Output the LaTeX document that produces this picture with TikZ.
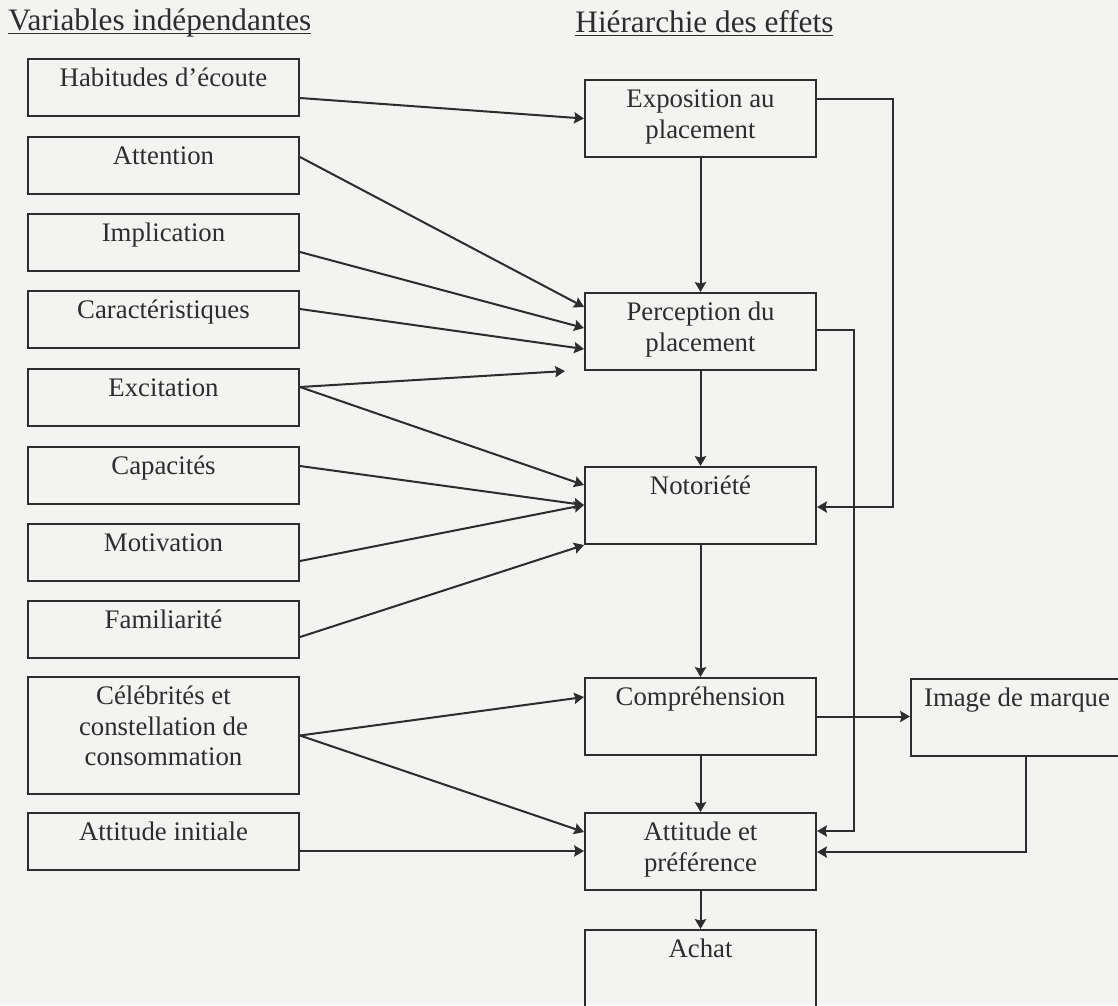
\documentclass[tikz,border=0pt]{standalone}
\usepackage{fontspec}
\setmainfont{Liberation Serif}
\usetikzlibrary{calc, arrows.meta}

\definecolor{paper}{RGB}{243,243,241}
\definecolor{ink}{RGB}{45,45,45}

\begin{document}
\begin{tikzpicture}[x=0.448pt, y=-0.448pt, >={Stealth[length=4.4pt,width=5pt,inset=0.6pt]},
    every node/.style={font=\fontsize{12}{13.6}\selectfont, text=ink},
    box/.style={draw=ink, line width=0.9pt, inner sep=0pt, anchor=north west,
      align=flush center, text height=12.5pt},
    varbox/.style={box, text width=121.4pt, text depth=13pt},
    effbox/.style={box, text width=103.5pt, text depth=22pt},
    title/.style={anchor=base west, inner sep=0pt, font=\fontsize{14}{16}\selectfont},
    arr/.style={->, draw=ink, line width=0.9pt}]
    \useasboundingbox (0,0) rectangle (1118,1005);
    \fill[paper] (0,0) rectangle (1118,1005);
    \clip (0,0) rectangle (1118,1005);

    % Titles
    \node[title] (vartitle) at (8,30) {\underline{\smash{Variables indépendantes}}};
    \node[title] (efftitle) at (575,32) {\underline{\smash{Hiérarchie des effets}}};

    % Independent variables
    \node[varbox] (hab) at (27,58) {Habitudes d’écoute};
    \node[varbox] (att) at (27,136) {Attention};
    \node[varbox] (imp) at (27,213) {Implication};
    \node[varbox] (car) at (27,290) {Caractéristiques};
    \node[varbox] (exc) at (27,368) {Excitation};
    \node[varbox] (cap) at (27,446) {Capacités};
    \node[varbox] (mot) at (27,523) {Motivation};
    \node[varbox] (fam) at (27,600) {Familiarité};
    \node[varbox, text depth=39.9pt] (cel) at (27,676) {Célébrités et\\constellation de\\consommation};
    \node[varbox] (ini) at (27,812) {Attitude initiale};

    % Hierarchy of effects
    \node[effbox] (expo) at (584,79) {Exposition au\\placement};
    \node[effbox] (perc) at (584,292) {Perception du\\placement};
    \node[effbox] (noto) at (584,466) {Notoriété};
    \node[effbox] (comp) at (584,677) {Compréhension};
    \node[effbox] (attp) at (584,812) {Attitude et\\préférence};
    \node[effbox, text depth=24pt] (achat) at (584,929) {Achat};
    \node[box, text width=95pt, text depth=22pt] (img) at (910,678) {Image de marque};

    % Variables to effects
    \draw[arr] ($(hab.north east)+(0,40)$) -- (expo.west);
    \draw[arr] ($(att.north east)+(0,21)$) -- ($(perc.north west)+(0,15)$);
    \draw[arr] ($(imp.north east)+(0,39)$) -- ($(perc.north west)+(0,36)$);
    \draw[arr] ($(car.north east)+(0,19)$) -- ($(perc.north west)+(0,57)$);
    \coordinate (excend) at ($(perc.south west)+(-19,0)$);
    \draw[arr] ($(exc.north east)+(0,19)$) -- (excend);
    \draw[arr] ($(exc.north east)+(0,19)$) -- ($(noto.north west)+(0,19)$);
    \draw[arr] ($(cap.north east)+(0,20)$) -- ($(noto.north west)+(0,39)$);
    \draw[arr] ($(mot.north east)+(0,38)$) -- ($(noto.north west)+(0,39)$);
    \draw[arr] ($(fam.north east)+(0,37)$) -- (noto.south west);
    \draw[arr] (cel.east) -- ($(comp.north west)+(0,20)$);
    \draw[arr] (cel.east) -- ($(attp.north west)+(0,20)$);
    \draw[arr] ($(ini.north east)+(0,39)$) -- ($(attp.north west)+(0,39)$);

    % Main chain
    \draw[arr] (expo) -- (perc);
    \draw[arr] (perc) -- (noto);
    \draw[arr] (noto) -- (comp);
    \draw[arr] (comp) -- (attp);
    \draw[arr] (attp) -- (achat);

    % Feedback paths
    \draw[arr] ($(expo.north east)+(0,20)$) -- ++(76,0) |- ($(noto.north east)+(0,41)$);
    \draw[arr] ($(perc.north east)+(0,38)$) -- ++(37,0) |- ($(attp.north east)+(0,19)$);
    \draw[arr] (comp.east) -- (comp.east -| img.west);
    \draw[arr] ($(img.south west)+(116,0)$) |- ($(attp.north east)+(0,40)$);
\end{tikzpicture}
\end{document}
